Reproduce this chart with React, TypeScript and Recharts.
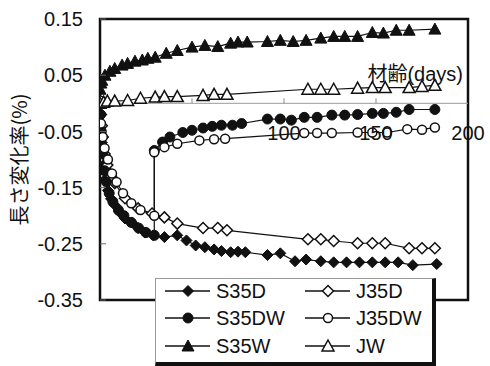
import React from 'react';
import { LineChart, Line, XAxis, YAxis, ReferenceArea, ReferenceLine, Legend } from 'recharts';

// ---- data (days, shrinkage %) ----
const s35dDays = [0, 0.5, 1, 2, 3, 4.3, 6, 8, 11, 13.6, 17.4, 20.7, 24.5, 29, 35, 42, 47, 52, 57, 62, 66, 71, 75, 79, 91, 98, 106, 112, 120, 127, 134, 141, 148, 155, 162, 170, 183];
const s35dVals = [0, -0.04, -0.07, -0.11, -0.135, -0.155, -0.17, -0.181, -0.195, -0.205, -0.212, -0.222, -0.23, -0.235, -0.238, -0.235, -0.244, -0.253, -0.256, -0.26, -0.263, -0.265, -0.264, -0.265, -0.27, -0.267, -0.281, -0.278, -0.281, -0.283, -0.283, -0.283, -0.283, -0.283, -0.283, -0.288, -0.286];

const j35dDays = [0, 0.5, 1, 1.5, 2.5, 4, 6, 8, 13.6, 20.7, 28.3, 35, 42, 56, 64, 69, 113, 120, 127, 140, 148, 155, 168, 175, 182];
const j35dVals = [0, -0.02, -0.04, -0.06, -0.09, -0.11, -0.13, -0.142, -0.169, -0.187, -0.196, -0.203, -0.214, -0.222, -0.222, -0.226, -0.242, -0.242, -0.245, -0.249, -0.249, -0.249, -0.258, -0.258, -0.258];

const s35dwDays = [0, 0.3, 0.7, 1.5, 2.5, 3.5, 5, 7, 10, 13, 17, 21, 25, 29.5, 29.5, 34, 38, 45, 50, 56, 61, 66, 72, 77, 91, 98, 104, 111, 118, 126, 133, 140, 148, 154, 161, 168, 182];
const s35dwVals = [0, -0.02, -0.05, -0.09, -0.12, -0.14, -0.16, -0.175, -0.19, -0.2, -0.212, -0.222, -0.23, -0.235, -0.084, -0.069, -0.06, -0.052, -0.048, -0.044, -0.041, -0.039, -0.039, -0.036, -0.028, -0.028, -0.03, -0.025, -0.025, -0.021, -0.021, -0.02, -0.018, -0.018, -0.016, -0.011, -0.011];

const j35dwDays = [0, 0.5, 1.5, 2.5, 4.3, 6.5, 9, 12.5, 17, 22, 29.5, 29.5, 35, 42, 54, 62, 68, 111, 118, 126, 140, 148, 156, 167, 175, 182];
const j35dwVals = [0.005, -0.036, -0.06, -0.08, -0.1, -0.125, -0.14, -0.16, -0.178, -0.19, -0.2, -0.087, -0.078, -0.072, -0.066, -0.064, -0.063, -0.053, -0.053, -0.053, -0.052, -0.052, -0.052, -0.046, -0.047, -0.043];

const s35wDays = [0, 0.5, 1, 2.7, 5.4, 8, 12, 15, 19, 23, 26, 30, 36, 42, 50, 57, 64, 71, 75, 80, 91, 98, 105, 112, 120, 127, 133, 140, 148, 154, 161, 168, 182];
const s35wVals = [0.025, 0.036, 0.041, 0.05, 0.057, 0.062, 0.068, 0.071, 0.075, 0.077, 0.08, 0.082, 0.089, 0.094, 0.1, 0.103, 0.101, 0.107, 0.109, 0.109, 0.11, 0.112, 0.11, 0.112, 0.116, 0.119, 0.119, 0.119, 0.126, 0.125, 0.13, 0.13, 0.132];

const jwDays = [0, 2, 4, 8, 15, 22, 30, 35, 42, 56, 62, 69, 113, 120, 127, 140, 148, 155, 168, 175, 182];
const jwVals = [0, 0.002, 0.004, 0.004, 0.005, 0.009, 0.011, 0.012, 0.012, 0.014, 0.016, 0.016, 0.025, 0.025, 0.025, 0.027, 0.028, 0.028, 0.028, 0.03, 0.032];

const xTicks = [0, 50, 100, 150, 200];
const xLabelTicks = [100, 150, 200];
const yTicks = [-0.35, -0.25, -0.15, -0.05, 0.05, 0.15];
const Y_MIN = -0.35;
const Y_MAX = 0.15;

const zip = (d: number[], v: number[]) => d.map((day, i) => ({ day, v: v[i] }));

// ---- layout ----
const W = 490;
const H = 366;
const MARGIN = { top: 19, right: 22, bottom: 0, left: 40 };
const Y_AXIS_W = 60;
const X_AXIS_H = 66;
const PLOT_TOP = MARGIN.top;
const PLOT_H = H - MARGIN.top - MARGIN.bottom - X_AXIS_H;
const ZERO_Y = PLOT_TOP + ((Y_MAX - 0) / (Y_MAX - Y_MIN)) * PLOT_H;

const FONT = "'Liberation Sans', Arial, 'Noto Sans CJK JP', sans-serif";
const CJK = "'Noto Sans CJK JP', 'Liberation Sans', sans-serif";
const INK = '#111';

type Kind = 'diamond' | 'circle' | 'triangle';

const Marker = ({ cx, cy, kind, filled }: { cx: number; cy: number; kind: Kind; filled: boolean }) => {
  const fill = filled ? INK : '#fff';
  const sw = filled ? 1 : 1.5;
  if (kind === 'diamond') {
    const r = 5.5;
    return <polygon points={`${cx},${cy - r} ${cx + r},${cy} ${cx},${cy + r} ${cx - r},${cy}`} fill={fill} stroke={INK} strokeWidth={sw} />;
  }
  if (kind === 'circle') {
    return <circle cx={cx} cy={cy} r={filled ? 5 : 4.5} fill={fill} stroke={INK} strokeWidth={sw} />;
  }
  return <polygon points={`${cx},${cy - 6} ${cx + 6},${cy + 5} ${cx - 6},${cy + 5}`} fill={fill} stroke={INK} strokeWidth={sw} strokeLinejoin="miter" />;
};

const makeDot = (name: string, kind: Kind, filled: boolean) => (p: any) => {
  if (p.cx == null || p.cy == null) return <g key={`${name}-${p.index}`} />;
  return (
    <g key={`${name}-${p.index}`}>
      <Marker cx={p.cx} cy={p.cy} kind={kind} filled={filled} />
    </g>
  );
};

const series = [
  { name: 'S35D', data: zip(s35dDays, s35dVals), kind: 'diamond' as Kind, filled: true },
  { name: 'J35D', data: zip(j35dDays, j35dVals), kind: 'diamond' as Kind, filled: false },
  { name: 'S35DW', data: zip(s35dwDays, s35dwVals), kind: 'circle' as Kind, filled: true },
  { name: 'J35DW', data: zip(j35dwDays, j35dwVals), kind: 'circle' as Kind, filled: false },
  { name: 'S35W', data: zip(s35wDays, s35wVals), kind: 'triangle' as Kind, filled: true },
  { name: 'JW', data: zip(jwDays, jwVals), kind: 'triangle' as Kind, filled: false },
];

const XTick = (props: any) => {
  const { x, payload } = props;
  const v = payload.value as number;
  return (
    <g>
      {v > 0 && v < 200 && <line x1={x} x2={x} y1={ZERO_Y} y2={ZERO_Y - 5} stroke="#888" strokeWidth={1} />}
      {xLabelTicks.includes(v) && (
        <text x={x} y={ZERO_Y + 37} textAnchor="middle" fontFamily={FONT} fontSize={20} fill={INK}>
          {v}
        </text>
      )}
    </g>
  );
};

const YTick = (props: any) => {
  const { x, y, payload } = props;
  const v = payload.value as number;
  return (
    <g>
      <line x1={x} x2={x + 6} y1={y} y2={y} stroke="#666" strokeWidth={1} />
      <text x={x - 17} y={y} dy="0.36em" textAnchor="end" fontFamily={FONT} fontSize={20} fill={INK}>
        {v.toFixed(2)}
      </text>
    </g>
  );
};

const YLabel = (props: any) => {
  const vb = props.viewBox || { x: MARGIN.left, y: PLOT_TOP, width: Y_AXIS_W, height: PLOT_H };
  const cx = vb.x - 22;
  const cy = vb.y + vb.height / 2;
  return (
    <text x={cx} y={cy} transform={`rotate(-90 ${cx} ${cy})`} textAnchor="middle" dominantBaseline="central" fontFamily={CJK} fontSize={20} fill={INK}>
      長さ変化率(%)
    </text>
  );
};

const XLabel = (props: any) => {
  const vb = props.viewBox || { x: MARGIN.left + Y_AXIS_W, y: PLOT_TOP + PLOT_H, width: W - MARGIN.left - Y_AXIS_W - MARGIN.right, height: X_AXIS_H };
  return (
    <text x={vb.x + vb.width - 5} y={ZERO_Y - 22} textAnchor="end" fontFamily={FONT} fontSize={20} fill={INK}>
      材齢(days)
    </text>
  );
};

const legendRows = [
  ['S35D', 'J35D'],
  ['S35DW', 'J35DW'],
  ['S35W', 'JW'],
];

const LegendBox = () => {
  const rowY = [12, 39, 67];
  const colX = [9, 149];
  return (
    <div
      style={{
        width: 276,
        height: 83,
        background: '#fff',
        borderTop: '1px solid #999',
        borderLeft: '1px solid #999',
        borderRight: '4px solid #111',
        borderBottom: '4px solid #111',
      }}
    >
      <svg width={276} height={83} style={{ display: 'block' }}>
        {legendRows.map((row, ri) =>
          row.map((name, ci) => {
            const s = series.find((q) => q.name === name)!;
            const x0 = colX[ci];
            const y = rowY[ri];
            return (
              <g key={name}>
                <line x1={x0} x2={x0 + 45} y1={y} y2={y} stroke={INK} strokeWidth={1.3} />
                <Marker cx={x0 + 23} cy={y} kind={s.kind} filled={s.filled} />
                <text x={x0 + 51} y={y} dy="0.36em" fontFamily={FONT} fontSize={20} fill={INK}>
                  {name}
                </text>
              </g>
            );
          })
        )}
      </svg>
    </div>
  );
};

export default function App() {
  return (
    <div style={{ position: 'absolute', left: 0, top: 0, width: W, height: H, background: '#fff' }}>
      <LineChart width={W} height={H} margin={MARGIN}>
        <ReferenceArea x1={0} x2={200} y1={Y_MIN} y2={Y_MAX} fill="none" fillOpacity={0} stroke={INK} strokeWidth={2.5} ifOverflow="visible" />
        <ReferenceLine y={0} stroke="#999" strokeWidth={1} />
        <XAxis
          type="number"
          dataKey="day"
          domain={[0, 200]}
          ticks={xTicks}
          interval={0}
          height={X_AXIS_H}
          axisLine={false}
          tickLine={false}
          tickSize={0}
          tickMargin={0}
          tick={<XTick />}
          label={<XLabel />}
          allowDataOverflow
        />
        <YAxis
          type="number"
          domain={[Y_MIN, Y_MAX]}
          ticks={yTicks}
          interval={0}
          width={Y_AXIS_W}
          axisLine={false}
          tickLine={false}
          tickSize={0}
          tickMargin={0}
          tick={<YTick />}
          label={<YLabel />}
          allowDataOverflow
        />
        {series.map((s) => (
          <Line
            key={s.name}
            name={s.name}
            data={s.data}
            dataKey="v"
            type="linear"
            stroke={INK}
            strokeWidth={1.2}
            dot={makeDot(s.name, s.kind, s.filled)}
            activeDot={false}
            isAnimationActive={false}
            legendType="none"
          />
        ))}
        <Legend
          layout="horizontal"
          verticalAlign="middle"
          align="center"
          content={() => <LegendBox />}
          wrapperStyle={{ left: 155, top: 278, width: 281, height: 88 }}
        />
      </LineChart>
    </div>
  );
}
